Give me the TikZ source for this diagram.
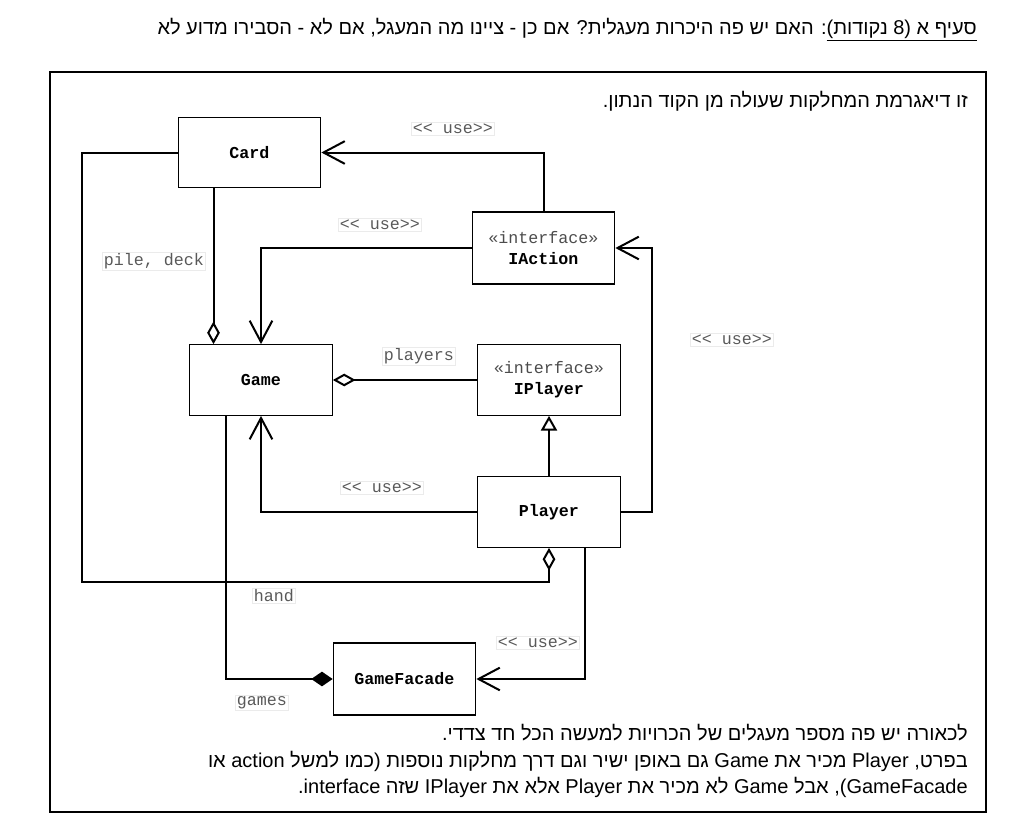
\documentclass[tikz,border=0pt]{standalone}
\usepackage{fontspec}
\setmainfont{Liberation Sans}
\setmonofont{Liberation Mono}
\newfontfamily\hebfont[Script=Hebrew]{Liberation Sans}
\TeXXeTstate=1
\usetikzlibrary{arrows.meta}

\begin{document}
\begin{tikzpicture}[x=0.75pt,y=-0.75pt,
  cls/.style={draw,line width=0.8pt,minimum width=107pt,minimum height=53pt,align=center,
    font=\ttfamily\bfseries\fontsize{12.5}{16}\selectfont},
  lbl/.style={font=\ttfamily\fontsize{12.5}{15}\selectfont,text=black!65,draw=black!8,
    line width=0.4pt,inner sep=1pt},
  heb/.style={font=\hebfont\fontsize{15}{18}\selectfont,anchor=east,inner sep=0pt},
  conn/.style={line width=1.5pt},
  use/.style={conn,-{Straight Barb[length=16pt,width=17pt]}},
  agg/.style={conn,-{Diamond[open,length=17pt,width=9.5pt]}},
  comp/.style={conn,-{Diamond[length=16pt,width=11pt]}},
  impl/.style={conn,-{Triangle[open,length=11pt,width=12pt]}}]
\useasboundingbox (0,0) rectangle (1026,832);
\node[heb] (title) at (977,30) {\beginR\underline{\beginR סעיף א (8 נקודות)\endR}: האם יש פה היכרות מעגלית? אם כן - ציינו מה המעגל, אם לא - הסבירו מדוע לא\endR};
\draw[line width=1.3pt] (50,72) rectangle (986,812);
\node[heb] (intro) at (968,101) {\beginR זו דיאגרמת המחלקות שעולה מן הקוד הנתון.\endR};

\node[cls] (card) at (249.5,152.5) {Card};
\node[cls,minimum height=54pt] (iaction) at (543.5,248) {{\mdseries\color{black!70}«interface»}\\IAction};
\node[cls] (game) at (261,380) {Game};
\node[cls] (iplayer) at (549,380) {{\mdseries\color{black!70}«interface»}\\IPlayer};
\node[cls] (player) at (549,512) {Player};
\node[cls,minimum height=54pt] (facade) at (404.5,679) {GameFacade};

\coordinate (pile) at ([xshift=-27pt]card.south);
\coordinate (handturn) at (82,582);
\coordinate (actturn) at (652,512);
\coordinate (gamesrc) at ([xshift=-26pt]game.south);
\coordinate (usesrc) at ([xshift=27pt]player.south);

\draw[use] (iaction.north) |- (card.east);
\draw[use] (iaction.west) -| (game.north);
\draw[agg] (pile) -- (pile |- game.north);
\draw[agg] (iplayer.west) -- (game.east);
\draw[impl] (player.north) -- (iplayer.south);
\draw[use] (player.west) -| (game.south);
\draw[use] (player.east) -- (actturn) |- (iaction.east);
\draw[agg] (card.west) -| (handturn) -| (player.south);
\draw[comp] (gamesrc) |- (facade.west);
\draw[use] (usesrc) |- (facade.east);

\node[lbl] (l1) at (453,129) {<< use>>};
\node[lbl] (l2) at (380,225) {<< use>>};
\node[lbl] (l3) at (154,261) {pile, deck};
\node[lbl] (l4) at (419,356) {players};
\node[lbl] (l5) at (382,488) {<< use>>};
\node[lbl] (l6) at (732,340) {<< use>>};
\node[lbl] (l7) at (274,596) {hand};
\node[lbl] (l8) at (262,703) {games};
\node[lbl] (l9) at (538,643) {<< use>>};

\node[heb] (note1) at (968,733) {\beginR לכאורה יש פה מספר מעגלים של הכרויות למעשה הכל חד צדדי.\endR};
\node[heb] (note2) at (968,761) {\beginR בפרט, Player מכיר את Game גם באופן ישיר וגם דרך מחלקות נוספות (כמו למשל action או\endR};
\node[heb] (note3) at (968,787) {\beginR GameFacade\kern0pt), אבל Game לא מכיר את Player אלא את IPlayer שזה interface\kern0pt.\endR};
\end{tikzpicture}
\end{document}
